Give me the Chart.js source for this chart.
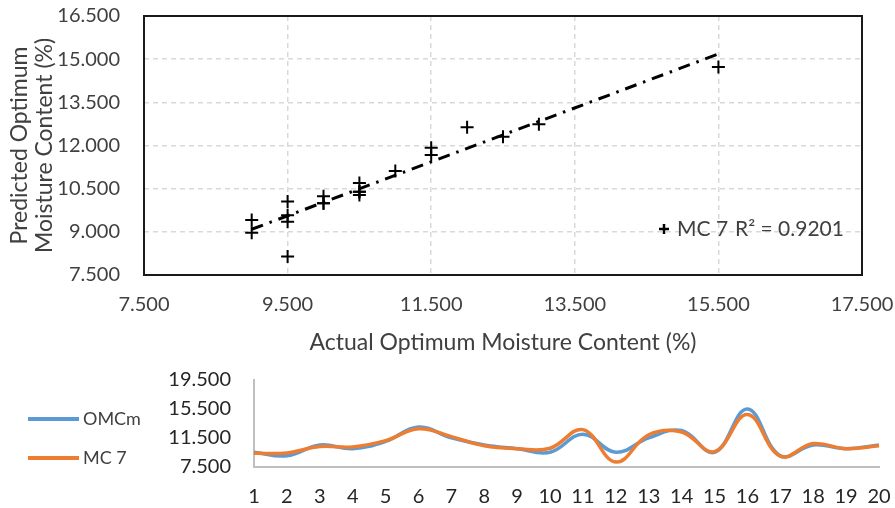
<!DOCTYPE html>
<html>
<head>
<meta charset="utf-8">
<script src="https://cdn.jsdelivr.net/npm/chart.js@4/dist/chart.umd.min.js"></script>
<style>
  body { margin: 0; background: #fff; }
  canvas { position: absolute; left: 0; display: block; }
</style>
</head>
<body>
<canvas id="chartScatter" width="895" height="360" style="top:0"></canvas>
<canvas id="chartLines" width="895" height="148" style="top:360px"></canvas>
<script>
// ── DATA ─────────────────────────────────────────
const sampleNo     = ['1','2','3','4','5','6','7','8','9','10','11','12','13','14','15','16','17','18','19','20'];
const omcActual    = [9.5, 9.0, 10.5, 10.0, 11.0, 13.0, 11.5, 10.5, 10.0, 9.5, 12.0, 9.5, 11.5, 12.5, 9.5, 15.5, 9.0, 10.5, 10.0, 10.5];
const mc7Predicted = [9.35, 9.41, 10.28, 10.24, 11.11, 12.74, 11.67, 10.39, 9.99, 10.05, 12.63, 8.14, 11.92, 12.30, 9.58, 14.73, 8.97, 10.70, 9.99, 10.39];

const scatterXTicks = [7.5, 9.5, 11.5, 13.5, 15.5, 17.5];
const scatterYTicks = [7.5, 9.0, 10.5, 12.0, 13.5, 15.0, 16.5];
const lineYTicks    = [7.5, 11.5, 15.5, 19.5];
const r2Label       = 'R² = 0.9201';

const FONT = "Lato, 'Open Sans', sans-serif";
const TXT  = '#404040';
const fmt3 = v => Number(v).toFixed(3);

// linear trendline (least squares, like Excel)
const n  = omcActual.length;
const mx = omcActual.reduce((a, b) => a + b, 0) / n;
const my = mc7Predicted.reduce((a, b) => a + b, 0) / n;
let sxy = 0, sxx = 0;
omcActual.forEach((x, i) => { sxy += (x - mx) * (mc7Predicted[i] - my); sxx += (x - mx) ** 2; });
const slope = sxy / sxx, icpt = my - slope * mx;
const xMin = Math.min(...omcActual), xMax = Math.max(...omcActual);

// tick gap done with invisible tick marks (ticks.padding would also pad the chart area)
const gap = len => ({ drawTicks: true, tickLength: len, tickColor: 'rgba(0,0,0,0)' });

// ── SCATTER ──────────────────────────────────────
new Chart(document.getElementById('chartScatter'), {
  type: 'scatter',
  data: {
    datasets: [
      {
        label: 'MC 7',
        data: omcActual.map((x, i) => ({ x, y: mc7Predicted[i] })),
        pointStyle: 'cross', pointRadius: 6.5, pointBorderWidth: 2,
        borderColor: '#000', backgroundColor: '#000'
      },
      {
        type: 'line', label: 'trend',
        data: [{ x: xMin, y: icpt + slope * xMin }, { x: xMax, y: icpt + slope * xMax }],
        borderColor: '#000', borderWidth: 3, borderDash: [12, 7, 2.5, 7],
        pointRadius: 0, fill: false
      }
    ]
  },
  options: {
    responsive: false, animation: false, devicePixelRatio: 1,
    layout: { padding: { top: 16, right: 33, left: 0, bottom: 0 } },
    plugins: { legend: { display: false }, tooltip: { enabled: false } },
    scales: {
      x: {
        type: 'linear', min: 7.5, max: 17.5,
        afterBuildTicks: s => { s.ticks = scatterXTicks.map(value => ({ value })); },
        afterFit: s => { s.height = 85; },
        grid: { color: '#d9d9d9', lineWidth: 1.5, ...gap(18) },
        border: { display: false, dash: [5, 4] },
        ticks: { color: TXT, font: { family: FONT, size: 20 }, padding: 0, callback: fmt3, maxRotation: 0 },
        title: { display: true, text: 'Actual Optimum Moisture Content (%)', color: TXT,
                 font: { family: FONT, size: 23 }, padding: { top: 0, bottom: 4 } }
      },
      y: {
        type: 'linear', min: 7.5, max: 16.5,
        afterBuildTicks: s => { s.ticks = scatterYTicks.map(value => ({ value })); },
        afterFit: s => { s.width = 144; },
        grid: { color: '#d9d9d9', lineWidth: 1.5, ...gap(24) },
        border: { display: false, dash: [5, 4] },
        ticks: { color: TXT, font: { family: FONT, size: 20 }, padding: 0, callback: fmt3, autoSkip: false },
        title: { display: true, text: ['Predicted Optimum', 'Moisture Content (%)'], color: TXT,
                 font: { family: FONT, size: 23, lineHeight: 1.1 }, padding: { top: 7, bottom: 0 } }
      }
    }
  },
  plugins: [{
    id: 'frame-legend',
    afterDraw(chart) {
      const { ctx: c, chartArea: a } = chart;
      c.save();
      c.strokeStyle = '#1a1a1a'; c.lineWidth = 2;
      c.strokeRect(a.left, a.top, a.right - a.left, a.bottom - a.top);
      // legend entry + trendline label
      const ly = 229;
      c.lineWidth = 2.5; c.strokeStyle = '#000';
      c.beginPath();
      c.moveTo(659, ly); c.lineTo(669, ly);
      c.moveTo(664, ly - 5); c.lineTo(664, ly + 5);
      c.stroke();
      c.fillStyle = TXT; c.font = `21px ${FONT}`; c.textBaseline = 'middle';
      c.fillText('MC 7', 677, ly);
      c.fillText(r2Label, 735, ly);
      c.restore();
    }
  }]
});

// ── LINES ────────────────────────────────────────
const lineColors = { omc: '#5b9bd5', mc7: '#ed7d31' };

new Chart(document.getElementById('chartLines'), {
  type: 'line',
  data: {
    labels: sampleNo,
    datasets: [
      { label: 'OMCm', data: omcActual, borderColor: lineColors.omc, borderWidth: 3.5,
        tension: 0.4, pointRadius: 0, order: 1 },
      { label: 'MC 7', data: mc7Predicted, borderColor: lineColors.mc7, borderWidth: 3.5,
        tension: 0.4, pointRadius: 0, order: 0 }
    ]
  },
  options: {
    responsive: false, animation: false, devicePixelRatio: 1,
    layout: { padding: { top: 20, right: 16, left: 0, bottom: 0 } },
    plugins: { legend: { display: false }, tooltip: { enabled: false } },
    scales: {
      x: {
        offset: false,
        afterFit: s => { s.height = 41.3; },
        grid: { display: true, drawOnChartArea: false, ...gap(18) },
        border: { display: true, color: '#bfbfbf', width: 2 },
        ticks: { color: '#262626', font: { family: FONT, size: 20 }, padding: 0, maxRotation: 0, autoSkip: false }
      },
      y: {
        min: 7.5, max: 19.5,
        afterBuildTicks: s => { s.ticks = lineYTicks.map(value => ({ value })); },
        afterFit: s => { s.width = 254; },
        grid: { display: true, drawOnChartArea: false, ...gap(23) },
        border: { display: true, color: '#bfbfbf', width: 2 },
        ticks: { color: '#262626', font: { family: FONT, size: 20 }, padding: 0, callback: fmt3, autoSkip: false }
      }
    }
  },
  plugins: [{
    id: 'side-legend',
    afterDraw(chart) {
      const c = chart.ctx;
      const items = [
        { text: 'OMCm', color: lineColors.omc, y: 59 },
        { text: 'MC 7', color: lineColors.mc7, y: 98 }
      ];
      c.save();
      c.font = `18px ${FONT}`; c.textBaseline = 'middle'; c.fillStyle = TXT;
      items.forEach(it => {
        c.strokeStyle = it.color; c.lineWidth = 4;
        c.beginPath(); c.moveTo(28, it.y); c.lineTo(79, it.y); c.stroke();
        c.fillText(it.text, 83, it.y);
      });
      c.restore();
    }
  }]
});
</script>
</body>
</html>
